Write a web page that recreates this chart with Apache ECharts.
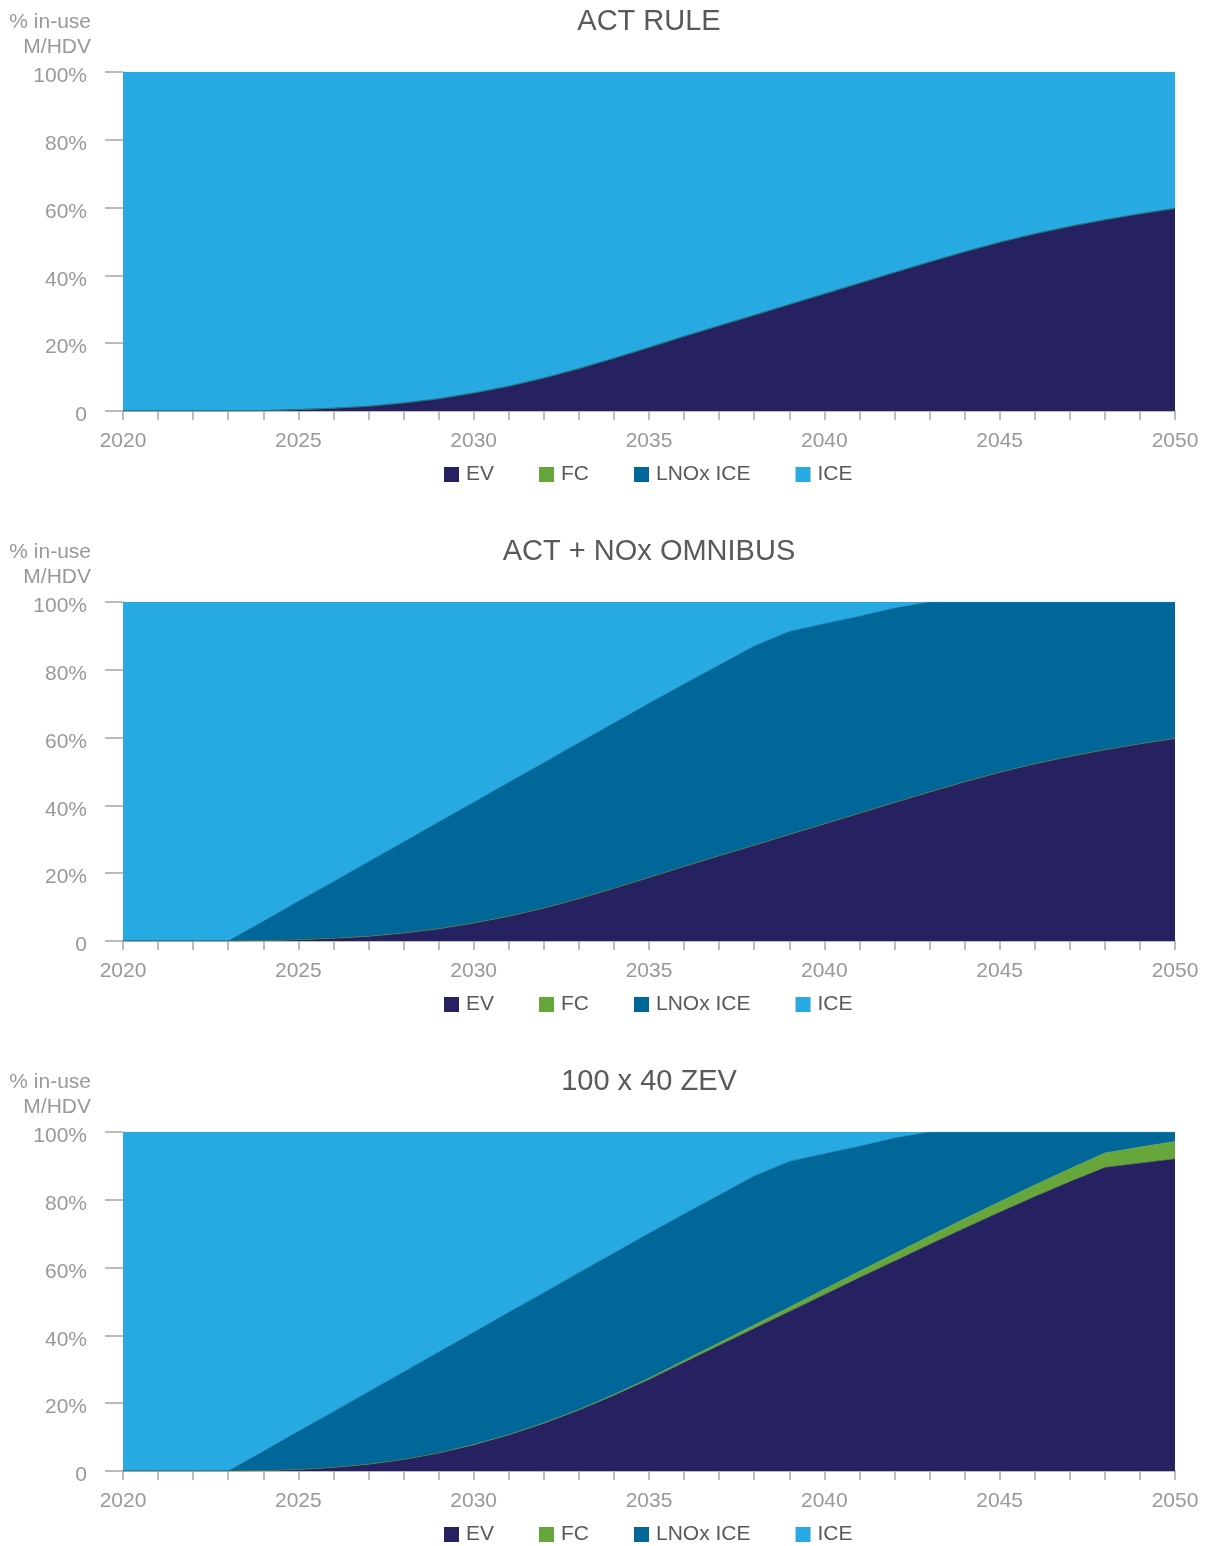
<!DOCTYPE html>
<html>
<head>
<meta charset="utf-8">
<title>In-use M/HDV fleet mix</title>
<script src="https://cdn.jsdelivr.net/npm/echarts@6/dist/echarts.min.js"></script>
<style>
  html, body { margin: 0; padding: 0; background: #ffffff; }
  #chart { width: 1210px; height: 1546px; }
</style>
</head>
<body>
<div id="chart"></div>
<script>
// Years on the horizontal axis
const years = [];
for (let y = 2020; y <= 2050; y++) years.push(String(y));

const seriesNames = ['EV', 'FC', 'LNOx ICE', 'ICE'];
const panelTitles = ['ACT RULE', 'ACT + NOx OMNIBUS', '100 x 40 ZEV'];
const yTicks = [0, 20, 40, 60, 80, 100];

// Shares of the in-use fleet (%), 2020..2050

// ACT RULE
const actEV   = [0,0,0,0,0.1,0.4,0.8,1.4,2.35,3.6,5.3,7.3,9.7,12.5,15.55,18.75,22.0,25.15,28.25,31.4,34.55,37.7,40.85,43.95,46.95,49.75,52.25,54.45,56.4,58.15,59.75];
const actFC   = [0,0,0,0,0,0,0,0,0,0,0,0,0,0,0,0,0,0,0,0,0,0,0,0,0,0,0,0,0,0,0];
const actLNOx = [0,0,0,0,0,0,0,0,0,0,0,0,0,0,0,0,0,0,0,0,0,0,0,0,0,0,0,0,0,0,0];
const actICE  = [100,100,100,100,99.9,99.6,99.2,98.6,97.65,96.4,94.7,92.7,90.3,87.5,84.45,81.25,78.0,74.85,71.75,68.6,65.45,62.3,59.15,56.05,53.05,50.25,47.75,45.55,43.6,41.85,40.25];

// ACT + NOx OMNIBUS
const omnEV   = [0,0,0,0,0.1,0.4,0.8,1.4,2.35,3.6,5.3,7.3,9.7,12.5,15.55,18.75,22.0,25.15,28.25,31.4,34.55,37.7,40.85,43.95,46.95,49.75,52.25,54.45,56.4,58.15,59.75];
const omnFC   = [0,0,0,0,0,0,0,0,0,0,0,0,0,0,0,0,0,0,0,0,0,0,0,0,0,0,0,0,0,0,0];
const omnLNOx = [0,0,0,0,5.7,11.3,16.7,22.0,26.85,31.5,35.6,39.5,42.9,46.0,48.75,51.35,53.8,56.25,58.75,59.9,59.05,58.1,57.35,56.05,53.05,50.25,47.75,45.55,43.6,41.85,40.25];
const omnICE  = [100,100,100,100,94.2,88.3,82.5,76.6,70.8,64.9,59.1,53.2,47.4,41.5,35.7,29.9,24.2,18.6,13.0,8.7,6.4,4.2,1.8,0,0,0,0,0,0,0,0];

// 100 x 40 ZEV
const zevEV   = [0,0,0,0,0.1,0.45,1.05,2.0,3.4,5.3,7.7,10.6,14.0,17.9,22.25,26.95,32.0,37.0,42.0,47.0,52.0,57.0,61.9,66.8,71.6,76.3,80.9,85.3,89.5,90.8,92.0];
const zevFC   = [0,0,0,0,0,0,0,0,0,0,0.1,0.1,0.15,0.2,0.3,0.4,0.6,0.8,1.05,1.3,1.6,1.9,2.2,2.5,2.8,3.1,3.45,3.85,4.3,4.75,5.2];
const zevLNOx = [0,0,0,0,5.7,11.25,16.45,21.4,25.8,29.8,33.1,36.1,38.45,40.4,41.75,42.75,43.2,43.6,43.95,43.0,40.0,36.9,34.1,30.7,25.6,20.6,15.65,10.85,6.2,4.45,2.8];
const zevICE  = [100,100,100,100,94.2,88.3,82.5,76.6,70.8,64.9,59.1,53.2,47.4,41.5,35.7,29.9,24.2,18.6,13.0,8.7,6.4,4.2,1.8,0,0,0,0,0,0,0,0];

const panels = [
  [actEV, actFC, actLNOx, actICE],
  [omnEV, omnFC, omnLNOx, omnICE],
  [zevEV, zevFC, zevLNOx, zevICE]
];

const colors = ['#262262', '#67a63b', '#016798', '#27a9e1'];
const FONT = '"Liberation Sans", Arial, Helvetica, sans-serif';

const GRID_LEFT = 123, GRID_RIGHT = 35, GRID_H = 339, PANEL_STEP = 530, FIRST_TOP = 72;

const option = {
  animation: false,
  backgroundColor: '#ffffff',
  color: colors,
  title: [], grid: [], xAxis: [], yAxis: [], legend: [], series: [], graphic: []
};

panels.forEach((data, p) => {
  const top = FIRST_TOP + p * PANEL_STEP;
  option.title.push({
    text: panelTitles[p],
    left: 644, top: top - 70, textAlign: 'center',
    textStyle: { fontFamily: FONT, fontSize: 29, fontWeight: 'normal', color: '#595959' }
  });
  option.grid.push({ left: GRID_LEFT, right: GRID_RIGHT, top: top, height: GRID_H });
  option.xAxis.push({
    type: 'category', gridIndex: p, data: years, boundaryGap: false,
    axisLine: { show: true, lineStyle: { color: '#a6a6a6', width: 1.5 } },
    axisTick: { show: true, interval: 0, length: 9, lineStyle: { color: '#a6a6a6', width: 1.5 } },
    axisLabel: {
      interval: 4, margin: 20, fontFamily: FONT, fontSize: 21, color: '#999999'
    },
    splitLine: { show: false }
  });
  option.yAxis.push({
    type: 'value', gridIndex: p, min: 0, max: 100, interval: 20,
    axisLine: { show: true, lineStyle: { color: '#c8c8c8', width: 1 } },
    axisTick: { show: true, length: 18, lineStyle: { color: '#a6a6a6', width: 1.5 } },
    axisLabel: {
      margin: 36, fontFamily: FONT, fontSize: 21, color: '#999999',
      formatter: v => (yTicks.indexOf(v) >= 0 ? '{t|' + (v === 0 ? '0' : v + '%') + '}' : ''),
      rich: { t: { fontFamily: FONT, fontSize: 21, color: '#999999', padding: [9, 0, 0, 0] } }
    },
    splitLine: { show: false }
  });
  option.legend.push({
    data: seriesNames.slice(),
    left: 439, top: top + 387,
    itemWidth: 15, itemHeight: 15, itemGap: 45, icon: 'rect',
    selectedMode: false,
    textStyle: { fontFamily: FONT, fontSize: 21, color: '#595959', padding: [0, 0, 0, 2] }
  });
  option.graphic.push({
    type: 'text', x: 91, y: top - 62,
    style: {
      text: '% in-use\nM/HDV', align: 'right', verticalAlign: 'top',
      fontFamily: FONT, fontSize: 21, lineHeight: 25, fill: '#999999'
    }
  });
  seriesNames.forEach((name, s) => {
    option.series.push({
      name: name, type: 'line', xAxisIndex: p, yAxisIndex: p,
      stack: 'mix' + p, data: data[s],
      showSymbol: false, symbol: 'none',
      lineStyle: { width: 0.6, color: colors[s] },
      areaStyle: { color: colors[s], opacity: 1 },
      itemStyle: { color: colors[s] },
      emphasis: { disabled: true },
      z: 2
    });
  });
});

const chart = echarts.init(document.getElementById('chart'), null, { renderer: 'canvas' });
chart.setOption(option);
</script>
</body>
</html>
